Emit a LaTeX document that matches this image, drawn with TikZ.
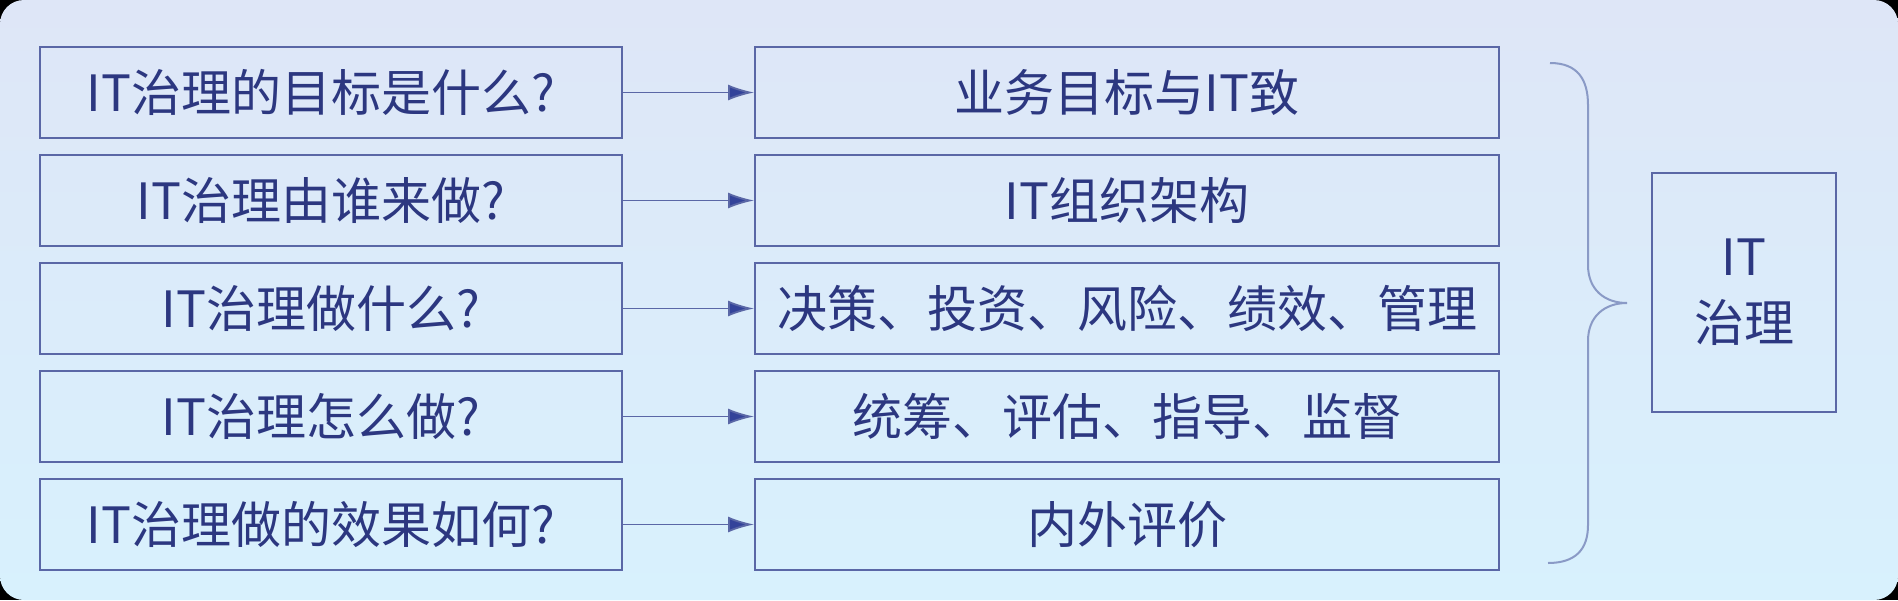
\documentclass[tikz,border=0pt]{standalone}
\usepackage{fontspec}
\setmainfont{Noto Sans CJK SC}
\usetikzlibrary{arrows.meta}
\definecolor{bgtop}{HTML}{DEE6F7}
\definecolor{bgbot}{HTML}{D8F1FD}
\definecolor{txt}{HTML}{2C3780}
\definecolor{boxline}{HTML}{5A67A6}
\definecolor{arrowc}{HTML}{33439A}
\definecolor{bracec}{HTML}{8A9AC6}
\begin{document}
\begin{tikzpicture}[x=1pt,y=-1pt,
  every node/.style={font=\fontsize{50}{66}\selectfont, text=txt},
  qbox/.style={draw=boxline, line width=2pt, minimum width=582pt, minimum height=91pt, inner sep=0pt, execute at end node={\kern20pt}},
  abox/.style={draw=boxline, line width=2pt, minimum width=744pt, minimum height=91pt, inner sep=0pt},
  gbox/.style={draw=boxline, line width=2pt, minimum width=184pt, minimum height=239pt, inner sep=0pt, align=center},
  link/.style={draw=boxline, line width=1.8pt, -{Latex[length=26pt,width=16pt,fill=arrowc]}},
]
\fill[black] (0,0) rectangle (1898,600);
\useasboundingbox (0,0) rectangle (1898,600);
\shade[top color=bgtop, bottom color=bgbot, rounded corners=24pt] (0,0) rectangle (1898,600);

\node[qbox] (q1) at (331,92.5) {IT治理的目标是什么?};
\node[qbox] (q2) at (331,200.5) {IT治理由谁来做?};
\node[qbox] (q3) at (331,308.5) {IT治理做什么?};
\node[qbox] (q4) at (331,416.5) {IT治理怎么做?};
\node[qbox] (q5) at (331,524.5) {IT治理做的效果如何?};

\node[abox] (a1) at (1127,92.5) {业务目标与IT致};
\node[abox] (a2) at (1127,200.5) {IT组织架构};
\node[abox] (a3) at (1127,308.5) {决策、投资、风险、绩效、管理};
\node[abox] (a4) at (1127,416.5) {统筹、评估、指导、监督};
\node[abox] (a5) at (1127,524.5) {内外评价};

\foreach \i in {1,...,5} {\draw[link] (q\i) -- (a\i);}

\node[gbox] (g) at (1744,292.5) {IT\\治理};

\draw[bracec, line width=2pt] (1550,63) .. controls (1578,63) and (1588,80) .. (1588,105)
  -- (1588,265) .. controls (1588,290) and (1605,303) .. (1627,303)
  .. controls (1605,303) and (1588,316) .. (1588,341)
  -- (1588,525) .. controls (1588,550) and (1575,563) .. (1548,563);
\end{tikzpicture}
\end{document}
